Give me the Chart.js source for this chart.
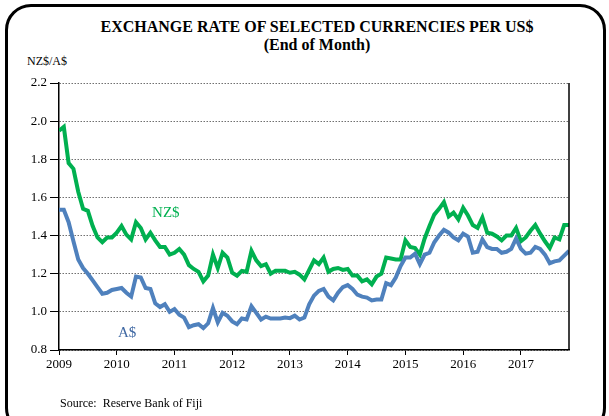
<!DOCTYPE html>
<html>
<head>
<meta charset="utf-8">
<title>Exchange rate of selected currencies per US$</title>
<script src="https://cdn.jsdelivr.net/npm/chart.js@4.4.1/dist/chart.umd.min.js"></script>
<style>
  html, body { margin: 0; padding: 0; background: #fff; overflow: hidden; }
  #wrap { position: relative; width: 609px; height: 416px; overflow: hidden; font-family: "Liberation Serif", "Times New Roman", serif; color: #000; }
  #frame { position: absolute; left: 5px; top: 4px; width: 601px; height: 430px; border: 3px solid #000; border-radius: 26px; box-sizing: border-box; }
  #title { position: absolute; left: 0; top: 18px; width: 634px; text-align: center; font-weight: bold; font-size: 16px; line-height: 18px; }
  #unit { position: absolute; left: 27px; top: 54px; font-size: 12px; line-height: 15px; }
  #source { position: absolute; left: 60px; top: 396px; font-size: 12px; line-height: 15px; white-space: pre; }
  #chart { position: absolute; left: 0; top: 0; }
</style>
</head>
<body>
<div id="wrap">
  <div id="frame"></div>
  <div id="title">EXCHANGE RATE OF SELECTED CURRENCIES PER US$<br>(End of Month)</div>
  <div id="unit">NZ$/A$</div>
  <canvas id="chart" width="609" height="416"></canvas>
  <div id="source">Source:  Reserve Bank of Fiji</div>
</div>
<script>
// month-end rates, Jan 2009 .. Nov 2017
const startYear = 2009;

const nzd = [
  1.95, 1.97, 1.78, 1.75, 1.63, 1.54, 1.53, 1.45, 1.39, 1.365, 1.39, 1.39,   // 2009
  1.415, 1.45, 1.405, 1.38, 1.47, 1.44, 1.38, 1.415, 1.375, 1.34, 1.34, 1.30, // 2010
  1.31, 1.33, 1.30, 1.245, 1.225, 1.21, 1.16, 1.19, 1.30, 1.23, 1.31, 1.285,  // 2011
  1.205, 1.19, 1.215, 1.21, 1.32, 1.27, 1.24, 1.25, 1.20, 1.215, 1.215, 1.215, // 2012
  1.205, 1.21, 1.195, 1.17, 1.22, 1.27, 1.25, 1.285, 1.21, 1.225, 1.23, 1.22, // 2013
  1.225, 1.19, 1.19, 1.16, 1.17, 1.145, 1.185, 1.20, 1.285, 1.28, 1.275, 1.275, // 2014
  1.375, 1.34, 1.335, 1.30, 1.385, 1.45, 1.51, 1.54, 1.575, 1.50, 1.52, 1.485, // 2015
  1.545, 1.505, 1.455, 1.44, 1.495, 1.415, 1.41, 1.395, 1.375, 1.40, 1.40, 1.44, // 2016
  1.37, 1.39, 1.425, 1.455, 1.41, 1.37, 1.335, 1.39, 1.38, 1.455, 1.455        // 2017
];

const aud = [
  1.535, 1.535, 1.47, 1.37, 1.275, 1.23, 1.20, 1.165, 1.13, 1.095, 1.10, 1.115, // 2009
  1.12, 1.125, 1.10, 1.08, 1.185, 1.18, 1.125, 1.12, 1.045, 1.025, 1.04, 1.00,  // 2010
  1.015, 0.985, 0.97, 0.92, 0.93, 0.935, 0.915, 0.94, 1.02, 0.945, 0.995, 0.98, // 2011
  0.95, 0.935, 0.965, 0.96, 1.03, 0.995, 0.96, 0.975, 0.965, 0.965, 0.965, 0.97, // 2012
  0.967, 0.98, 0.96, 0.97, 1.04, 1.085, 1.11, 1.12, 1.08, 1.06, 1.10, 1.13,     // 2013
  1.14, 1.12, 1.09, 1.08, 1.075, 1.06, 1.065, 1.065, 1.15, 1.14, 1.18, 1.24,    // 2014
  1.285, 1.285, 1.305, 1.25, 1.30, 1.31, 1.365, 1.40, 1.43, 1.415, 1.39, 1.375, // 2015
  1.41, 1.395, 1.31, 1.315, 1.38, 1.34, 1.33, 1.33, 1.31, 1.315, 1.33, 1.385,   // 2016
  1.33, 1.305, 1.31, 1.34, 1.33, 1.30, 1.255, 1.265, 1.27, 1.295, 1.32          // 2017
];

const xTicks = [2009, 2010, 2011, 2012, 2013, 2014, 2015, 2016, 2017];
const yTicks = [0.8, 1.0, 1.2, 1.4, 1.6, 1.8, 2.0, 2.2];

const GREEN = '#00b050';
const BLUE = '#4f81bd';
const SERIF = '"Liberation Serif", "Times New Roman", serif';

const toPoints = arr => arr.map((v, i) => ({ x: startYear + i / 12, y: v }));

// series names written next to the lines
const seriesTags = {
  id: 'seriesTags',
  afterDatasetsDraw(chart) {
    const { ctx, scales: { x, y } } = chart;
    ctx.save();
    ctx.font = '15px ' + SERIF;
    ctx.textAlign = 'center';
    ctx.textBaseline = 'middle';
    ctx.fillStyle = GREEN;
    ctx.fillText('NZ$', x.getPixelForValue(2010.85), y.getPixelForValue(1.52));
    ctx.fillStyle = '#3f68a3';
    ctx.fillText('A$', x.getPixelForValue(2010.18), y.getPixelForValue(0.89));
    ctx.restore();
  }
};

// closing line on the right of the plot area
const rightEdge = {
  id: 'rightEdge',
  afterDraw(chart) {
    const { ctx, chartArea: a } = chart;
    ctx.save();
    ctx.strokeStyle = '#000';
    ctx.lineWidth = 1.5;
    ctx.beginPath();
    ctx.moveTo(a.right, a.top);
    ctx.lineTo(a.right, a.bottom);
    ctx.stroke();
    ctx.restore();
  }
};

new Chart(document.getElementById('chart'), {
  type: 'line',
  data: {
    datasets: [
      { label: 'A$', data: toPoints(aud), borderColor: BLUE, borderWidth: 4, pointRadius: 0, tension: 0, fill: false },
      { label: 'NZ$', data: toPoints(nzd), borderColor: GREEN, borderWidth: 4, pointRadius: 0, tension: 0, fill: false }
    ]
  },
  options: {
    responsive: false,
    animation: false,
    layout: { padding: { left: 0, right: 40, top: 83, bottom: 36 } },
    plugins: { legend: { display: false }, tooltip: { enabled: false } },
    scales: {
      x: {
        type: 'linear',
        min: startYear,
        max: startYear + (nzd.length - 1) / 12,
        afterBuildTicks: s => { s.ticks = xTicks.map(v => ({ value: v })); },
        afterFit: s => { s.height = 30; },
        ticks: { autoSkip: false, maxRotation: 0, padding: 2, color: '#000',
                 font: { family: SERIF, size: 13 }, callback: v => String(v) },
        grid: { drawOnChartArea: false, tickLength: 5, color: '#000', lineWidth: 1 },
        border: { color: '#000', width: 1.5 }
      },
      y: {
        min: yTicks[0],
        max: yTicks[yTicks.length - 1],
        afterBuildTicks: s => { s.ticks = yTicks.map(v => ({ value: v })); },
        afterFit: s => { s.width = 59; },
        ticks: { color: '#000', padding: 3, font: { family: SERIF, size: 13 }, callback: v => v.toFixed(1) },
        grid: { color: '#707070', lineWidth: 1, tickLength: 9, tickColor: '#000', tickBorderDash: [] },
        border: { color: '#000', width: 1.5, dash: [1.5, 1.5] }
      }
    }
  },
  plugins: [seriesTags, rightEdge]
});
</script>
</body>
</html>
